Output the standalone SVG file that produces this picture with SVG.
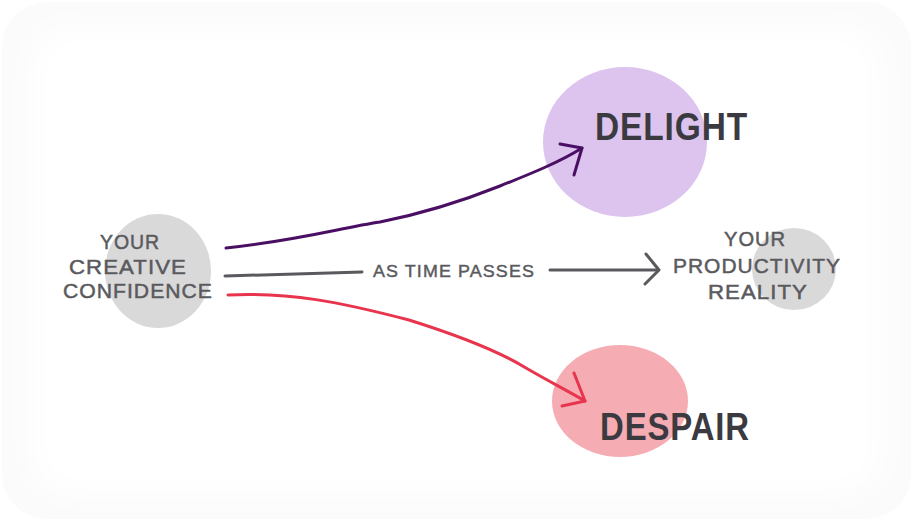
<svg xmlns="http://www.w3.org/2000/svg" width="913" height="521" viewBox="0 0 913 521">
<defs>
<filter id="soft" x="-10%" y="-10%" width="120%" height="120%"><feGaussianBlur stdDeviation="14"/></filter>
<style>
.lbl{font-family:"Liberation Sans","DejaVu Sans",sans-serif;fill:#5a5a5e;stroke:#5a5a5e;stroke-width:0.5;font-size:21px;text-anchor:middle;letter-spacing:1px}
.big{font-family:"Liberation Sans","DejaVu Sans",sans-serif;fill:#3b3a40;font-size:38px;font-weight:bold;letter-spacing:1px}
.edge{fill:none;stroke-width:3;stroke-linecap:round;stroke-linejoin:round}
</style>
</defs>
<rect x="0" y="0" width="913" height="521" fill="#ffffff"/>
<rect x="2" y="2" width="909" height="517" rx="45" fill="#fbfbfb"/>
<rect x="30" y="26" width="853" height="469" rx="40" fill="#ffffff" filter="url(#soft)"/>

<g id="node-confidence">
<ellipse cx="158" cy="271" rx="53" ry="57" fill="#d9d9d9"/>
<text class="lbl" x="130" y="249" textLength="60" lengthAdjust="spacingAndGlyphs">YOUR</text>
<text class="lbl" x="128" y="274" textLength="118" lengthAdjust="spacingAndGlyphs">CREATIVE</text>
<text class="lbl" x="138" y="298" textLength="150" lengthAdjust="spacingAndGlyphs">CONFIDENCE</text>
</g>

<g id="node-delight">
<ellipse cx="625" cy="142" rx="82" ry="75" fill="#dcc4ef"/>
<text class="big" x="595" y="140" textLength="153" lengthAdjust="spacingAndGlyphs">DELIGHT</text>
</g>

<g id="node-reality">
<ellipse cx="794" cy="269" rx="42" ry="41" fill="#d9d9d9"/>
<text class="lbl" x="755" y="246" textLength="62" lengthAdjust="spacingAndGlyphs">YOUR</text>
<text class="lbl" x="757" y="273" textLength="168" lengthAdjust="spacingAndGlyphs">PRODUCTIVITY</text>
<text class="lbl" x="758" y="299" textLength="100" lengthAdjust="spacingAndGlyphs">REALITY</text>
</g>

<g id="node-despair">
<ellipse cx="620" cy="401" rx="68" ry="56" fill="#f5adb3"/>
<text class="big" x="600" y="440" textLength="150" lengthAdjust="spacingAndGlyphs">DESPAIR</text>
</g>

<g id="connectors">
<path class="edge" stroke="#4a0f63" d="M226,248 C300,240 340,228 380,222 C430,212 470,198 500,186 C530,174 560,162 582,148"/>
<path class="edge" stroke="#4a0f63" d="M560,144 L582,148 L574,175"/>
<path class="edge" stroke="#5a5a5e" d="M225,276 L362,272"/>
<path class="edge" stroke="#5a5a5e" d="M550,270 L658,270"/>
<path class="edge" stroke="#5a5a5e" d="M646,254 L659,270 L645,284"/>
<text class="lbl" x="454" y="277" style="font-size:16px;stroke-width:0.4" textLength="162" lengthAdjust="spacingAndGlyphs">AS TIME PASSES</text>
<path class="edge" stroke="#e8354d" d="M228,295 C290,292 340,302 409,320 C460,336 500,352 526,368 C550,382 570,392 585,401"/>
<path class="edge" stroke="#e8354d" d="M574,373 L585,401 L562,406"/>
</g>
</svg>
